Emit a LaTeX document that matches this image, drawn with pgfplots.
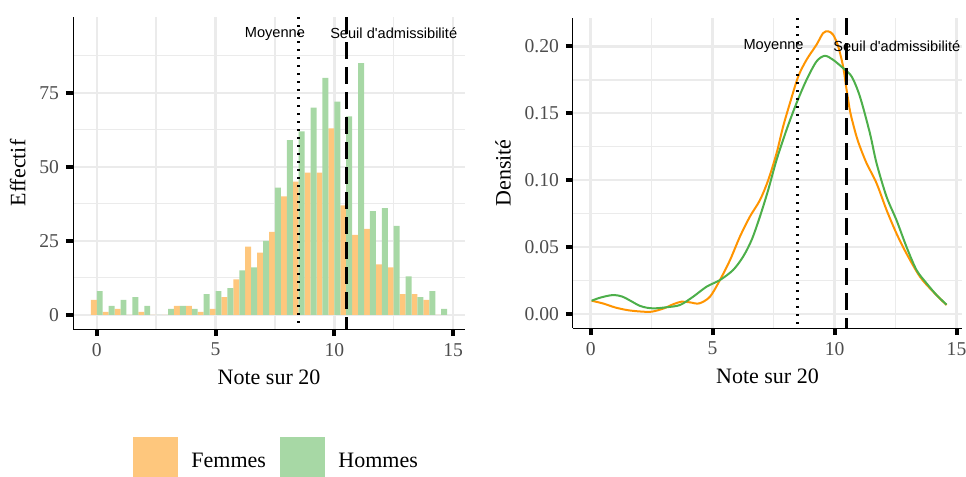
\documentclass[border=0pt]{standalone}
\usepackage{pgfplots}
\pgfplotsset{compat=1.18}
\usepackage{fontspec}
\setmainfont{Liberation Serif}
\newfontfamily\annfont{Liberation Sans}

\definecolor{femfill}{HTML}{FEC77D}
\definecolor{homfill}{HTML}{A7D8A5}
\definecolor{femline}{HTML}{FF9400}
\definecolor{homline}{HTML}{4DAF4A}
\definecolor{gridgray}{HTML}{EBEBEB}
\definecolor{tickgray}{HTML}{4D4D4D}

% histogram counts, bins of width 0.5
\pgfplotstableread{
x    fem  hom
0    5    8
0.5  1    3
1    2    5
1.5  0    6
2    1    3
2.5  0    0
3    0    2
3.5  3    3
4    3    2
4.5  1    7
5    2    8
5.5  6    9
6    12   15
6.5  23   16
7    21   25
7.5  28   43
8    40   59
8.5  45   62
9    48   70
9.5  48   80
10   63   72
10.5 37   67
11   27   85
11.5 29   35
12   17   36
12.5 16   30
13   7    13
13.5 7    6
14   5    8
14.5 0    2
}\histo

\pgfplotsset{
  panel/.style={
    scale only axis,
    axis lines*=left,
    axis line style={-, black, line width=0.5pt},
    tick align=outside,
    major tick length=3.5pt,
    minor tick length=0pt,
    major tick style={black, line width=2pt},
    grid=both,
    major grid style={gridgray, line width=1.2pt},
    minor grid style={gridgray, line width=0.7pt},
    tick label style={font=\fontsize{9.8}{11}\selectfont, text=tickgray},
    label style={font=\fontsize{11}{13}\selectfont},
    /pgf/number format/assume math mode=true,
    xtick={0,5,10,15},
    minor xtick={2.5,7.5,12.5},
    xlabel={Note sur 20},
  },
}
\tikzset{
  ann/.style={font=\annfont\fontsize{7.3}{8}\selectfont},
  moy/.style={black, line width=1.3pt, dash pattern=on 1.2pt off 2.8pt},
  seuil/.style={black, line width=1.3pt, dash pattern=on 8.5pt off 4pt},
}

\begin{document}
\begin{tikzpicture}
\useasboundingbox (0,0) rectangle (483pt,-238.5pt);

\begin{axis}[panel,
  at={(36.5pt,-164.5pt)}, anchor=south west,
  width=196pt, height=156pt,
  xmin=-1.0, xmax=15.5, ymin=-4.8, ymax=100.6,
  ytick={0,25,50,75},
  minor ytick={12.5,37.5,62.5,87.5},
  ylabel={Effectif},
]
\addplot[ybar, bar width=0.25, bar shift=-0.125, fill=femfill, draw=none] table[x=x, y=fem] {\histo};
\addplot[ybar, bar width=0.25, bar shift=0.125, fill=homfill, draw=none] table[x=x, y=hom] {\histo};
\addplot[moy] coordinates {(8.48,100.6) (8.48,-4.8)};
\addplot[seuil] coordinates {(10.5,100.6) (10.5,-4.8)};
\node[ann] at (axis cs:7.5,95) {Moyenne};
\node[ann] at (axis cs:12.5,95) {Seuil d'admissibilité};
\end{axis}

\begin{axis}[panel,
  at={(286.5pt,-164pt)}, anchor=south west,
  width=194.5pt, height=155pt,
  xmin=-0.725, xmax=15.225, ymin=-0.0107, ymax=0.2213,
  ytick={0,0.05,0.1,0.15,0.2},
  minor ytick={0.025,0.075,0.125,0.175},
  yticklabel style={/pgf/number format/.cd, fixed, precision=2, zerofill},
  ylabel={Densité},
]
\addplot[femline, line width=1pt, smooth] coordinates {
(0.04,0.0097) (0.5,0.0077) (1,0.0047) (1.5,0.0027) (2,0.0017) (2.5,0.0015)
(3,0.004) (3.4,0.0072) (3.73,0.009) (4.07,0.0085) (4.45,0.0077) (4.89,0.0127)
(5.30,0.0252) (5.71,0.040) (6.12,0.0577) (6.53,0.0727) (6.94,0.085)
(7.28,0.100) (7.62,0.120) (7.89,0.140) (8.17,0.1576) (8.51,0.1775)
(8.85,0.190) (9.26,0.2013) (9.53,0.210) (9.74,0.2113) (9.94,0.2088)
(10.15,0.200) (10.35,0.185) (10.49,0.168) (10.63,0.152) (10.76,0.142)
(10.9,0.1326) (11.04,0.125) (11.31,0.1127) (11.72,0.0977) (12.13,0.0777)
(12.54,0.060) (12.95,0.045) (13.5,0.0277) (14.04,0.0165) (14.59,0.0065)
};
\addplot[homline, line width=1pt, smooth] coordinates {
(0.04,0.0097) (0.3,0.0115) (0.6,0.013) (0.96,0.014) (1.3,0.0128) (1.6,0.010)
(2.0,0.006) (2.3,0.0045) (2.6,0.004) (3.1,0.0048) (3.66,0.0065) (4.2,0.0127)
(4.75,0.0202) (5.30,0.0252) (5.84,0.0327) (6.25,0.0427) (6.6,0.0552)
(6.94,0.0727) (7.28,0.0927) (7.62,0.115) (8.03,0.1376) (8.44,0.1576)
(8.85,0.175) (9.26,0.1888) (9.6,0.193) (9.94,0.190) (10.35,0.1838)
(10.7,0.1775) (11.04,0.1625) (11.45,0.135) (11.72,0.1127) (12.13,0.0876)
(12.54,0.070) (12.95,0.050) (13.36,0.0327) (13.77,0.0228) (14.18,0.014)
(14.59,0.0068)
};
\addplot[moy] coordinates {(8.48,0.2213) (8.48,-0.0107)};
\addplot[seuil] coordinates {(10.5,0.2213) (10.5,-0.0107)};
\node[ann] at (axis cs:7.5,0.2) {Moyenne};
\node[ann] at (axis cs:12.55,0.2) {Seuil d'admissibilité};
\end{axis}

% legend
\fill[femfill] (66.5pt,-218.5pt) rectangle (89pt,-238.5pt);
\node[anchor=west, inner sep=0pt, font=\fontsize{11}{13}\selectfont] at (95.5pt,-230pt) {Femmes};
\fill[homfill] (140pt,-218.5pt) rectangle (162.5pt,-238.5pt);
\node[anchor=west, inner sep=0pt, font=\fontsize{11}{13}\selectfont] at (169pt,-230pt) {Hommes};
\end{tikzpicture}
\end{document}
